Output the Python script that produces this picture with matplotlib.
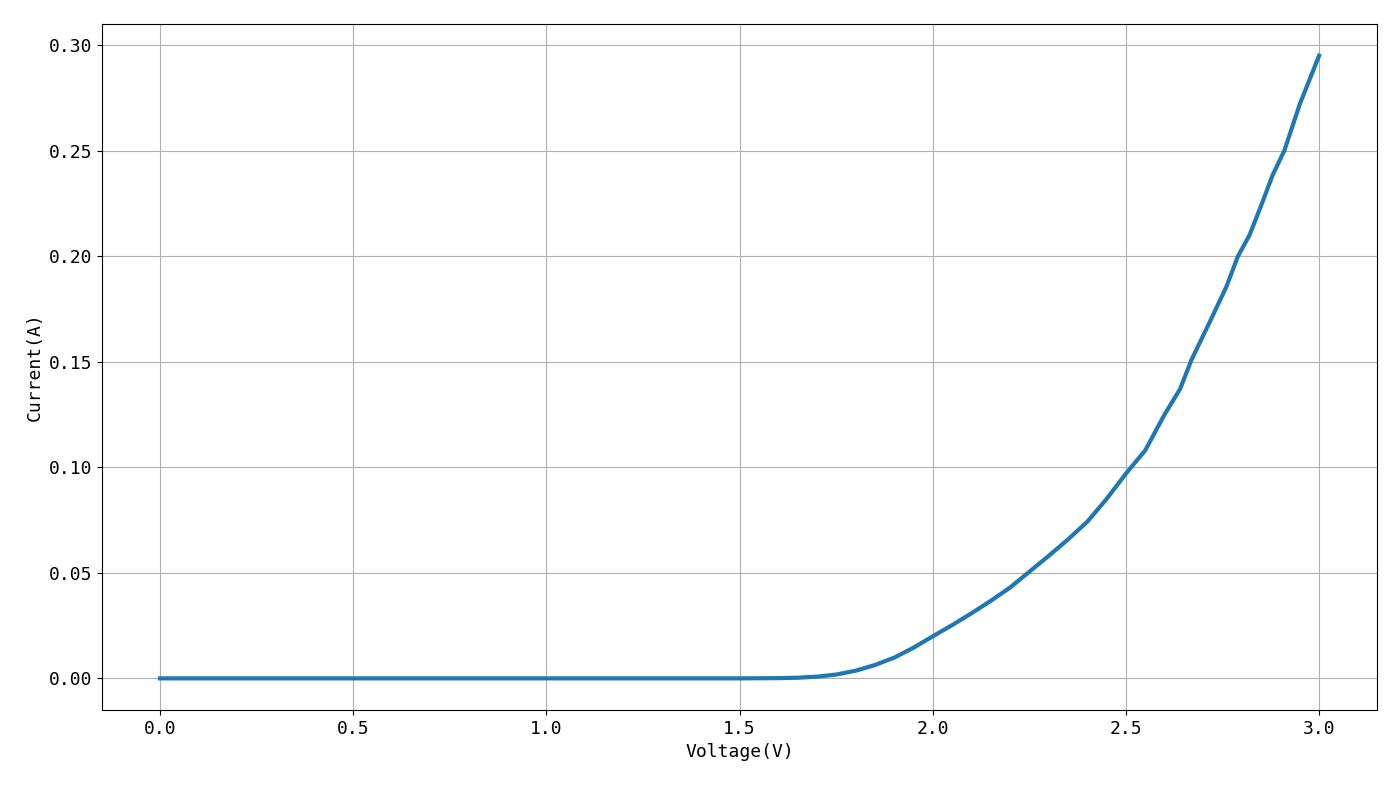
import matplotlib
matplotlib.use('Agg')
import matplotlib.pyplot as plt

plt.rcParams['font.family'] = ['DejaVu Sans Mono']

voltage = [0.0, 0.5, 1.0, 1.5, 1.6, 1.65, 1.7, 1.75, 1.8, 1.85, 1.9, 1.95,
           2.0, 2.05, 2.1, 2.15, 2.2, 2.25, 2.3, 2.35, 2.4, 2.45, 2.5, 2.55,
           2.6, 2.64, 2.67, 2.72, 2.76, 2.79, 2.82, 2.85, 2.88, 2.91, 2.95, 3.0]
current = [0.0, 0.0, 0.0, 0.0, 0.0001, 0.0003, 0.0008, 0.0018, 0.0036, 0.0063,
           0.0098, 0.0145, 0.0199, 0.0252, 0.0308, 0.0367, 0.0430, 0.0505,
           0.0580, 0.0658, 0.0742, 0.0850, 0.0970, 0.1080, 0.1250, 0.1370,
           0.1510, 0.1700, 0.1855, 0.2000, 0.2100, 0.2240, 0.2385, 0.2500,
           0.2720, 0.2950]

fig = plt.figure(figsize=(14, 7.87), dpi=100)
ax = fig.add_axes([0.0729, 0.0978, 0.9107, 0.8717])
ax.plot(voltage, current, color='#1f77b4', linewidth=3)
ax.grid(True)
ax.set_xlabel('Voltage(V)', fontsize=13)
ax.set_ylabel('Current(A)', fontsize=13)
ax.tick_params(labelsize=13)
ax.set_yticks([0.0, 0.05, 0.10, 0.15, 0.20, 0.25, 0.30])
ax.set_ylim(-0.015, 0.31)
fig.savefig('out.png', dpi=100)
